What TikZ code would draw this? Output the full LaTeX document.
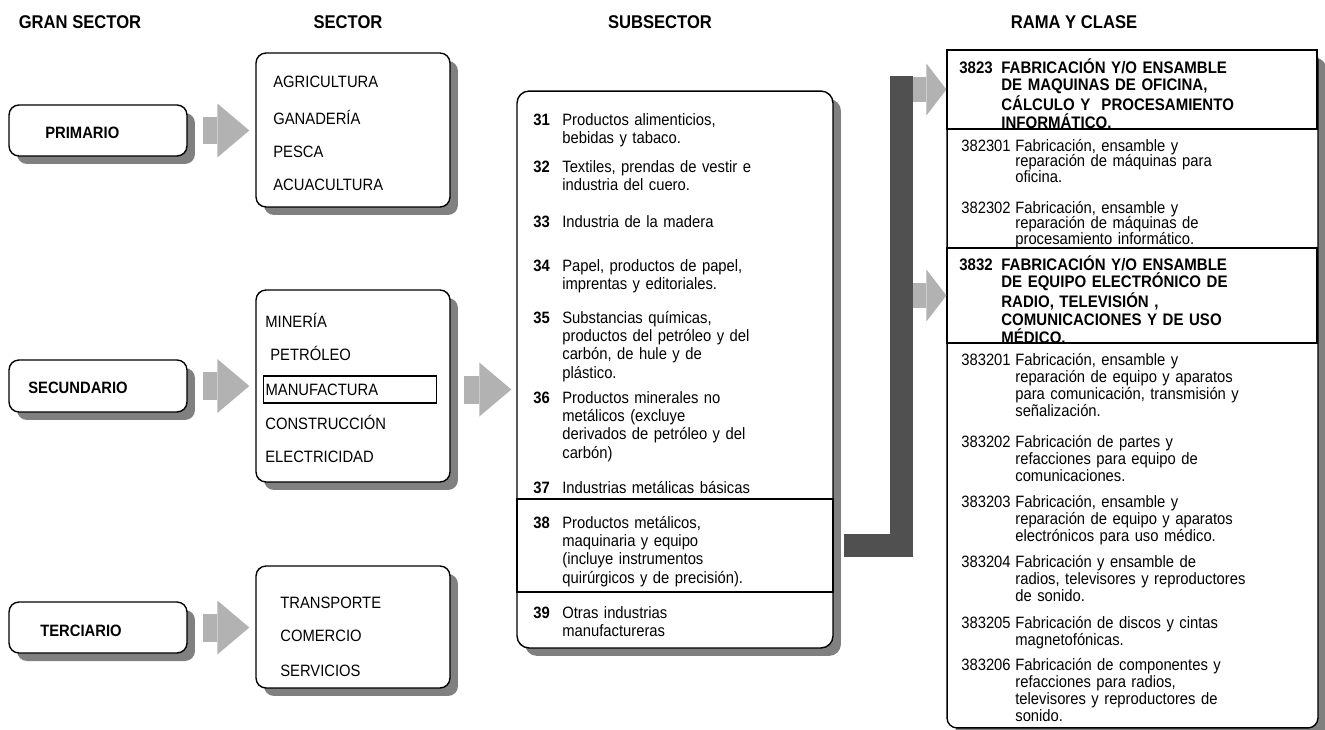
\documentclass[tikz,border=0pt]{standalone}
\usepackage{fontspec}
\setmainfont{Liberation Sans}[FakeStretch=0.9]
\usetikzlibrary{positioning,shadows,arrows.meta}
\definecolor{shadowgray}{RGB}{128,128,128}
\definecolor{arrowgray}{RGB}{178,178,178}
\definecolor{bargray}{RGB}{80,80,80}

\begin{document}
\begin{tikzpicture}[x=0.02cm, y=-0.02cm]
    % Stili
    \tikzset{
        with_shadow/.style={
            drop shadow={shadow xshift=0.16cm, shadow yshift=-0.16cm, fill=shadowgray, opacity=1}
        },
        round_box/.style={
            draw, line width=0.8pt, fill=white, rounded corners=0.2cm, inner sep=0pt, with_shadow
        },
        frame_box/.style={draw, line width=0.7pt, inner sep=0pt},
        col_title/.style={
            anchor=base, inner sep=0pt, font=\fontsize{10.5}{12}\selectfont\bfseries
        },
        gran_label/.style={
            anchor=base west, inner sep=0pt, font=\fontsize{9.35}{11}\selectfont\bfseries
        },
        sector_item/.style={
            anchor=base west, inner sep=0pt, font=\fontsize{9.35}{11}\selectfont
        },
        sub_num/.style={
            anchor=base west, inner sep=0pt, font=\fontsize{9.35}{10.5}\selectfont\bfseries
        },
        sub_text/.style={
            anchor=base west, inner sep=0pt, text width=5.2cm, align=left,
            font=\fontsize{9.35}{10.5}\selectfont
        },
        rama_head/.style={
            anchor=base west, inner sep=0pt, text width=6.2cm, align=left,
            font=\fontsize{9.5}{10.2}\selectfont\bfseries
        },
        clase_num/.style={
            anchor=base west, inner sep=0pt, font=\fontsize{9.35}{9.8}\selectfont
        },
        clase_text/.style={
            anchor=base west, inner sep=0pt, text width=6cm, align=left,
            font=\fontsize{9.35}{9.8}\selectfont
        },
        big_arrow/.style={
            arrowgray, line width=0.56cm,
            -{Triangle[length=0.64cm, width=1.08cm, line width=0pt]}
        },
        small_arrow/.style={
            arrowgray, line width=0.5cm,
            -{Triangle[length=0.4cm, width=1.04cm, line width=0pt]}
        },
        bracket_bar/.style={bargray, line width=0.46cm, line join=miter}
    }

    \useasboundingbox (0,0) rectangle (1325,730);

    % Titoli delle colonne
    \node[col_title] (title_gran) at (80,29) {GRAN SECTOR};
    \node[col_title] (title_sector) at (348,29) {SECTOR};
    \node[col_title] (title_sub) at (660,29) {SUBSECTOR};
    \node[col_title] (title_rama) at (1074,29) {RAMA Y CLASE};

    % Gran sector
    \node[round_box, minimum width=3.56cm, minimum height=1.02cm] (primario) at (98,130.5) {};
    \node[gran_label] (primario_txt) at (45,138) {PRIMARIO};
    \node[round_box, minimum width=3.56cm, minimum height=1.04cm] (secundario) at (98,386) {};
    \node[gran_label] (secundario_txt) at (28,393) {SECUNDARIO};
    \node[round_box, minimum width=3.56cm, minimum height=1.02cm] (terciario) at (98,627.5) {};
    \node[gran_label] (terciario_txt) at (40,636) {TERCIARIO};

    % Sector
    \node[round_box, minimum width=3.88cm, minimum height=3.08cm] (sector1) at (353,130) {};
    \node[sector_item] (agricultura) at (273,87.5) {AGRICULTURA};
    \node[sector_item] (ganaderia) at (273,124) {GANADERÍA};
    \node[sector_item] (pesca) at (273,157) {PESCA};
    \node[sector_item] (acuacultura) at (273,190) {ACUACULTURA};

    \node[round_box, minimum width=3.88cm, minimum height=3.84cm] (sector2) at (353,386) {};
    \node[sector_item] (mineria) at (265,327) {MINERÍA};
    \node[sector_item] (petroleo) at (270,360) {PETRÓLEO};
    \node[frame_box, anchor=west, text width=3.38cm, align=left, inner xsep=0.04cm,
          minimum height=0.54cm, font=\fontsize{9.35}{11}\selectfont] (manufactura) at (263,389.5) {MANUFACTURA};
    \node[sector_item] (construccion) at (265,429) {CONSTRUCCIÓN};
    \node[sector_item] (electricidad) at (265,462) {ELECTRICIDAD};

    \node[round_box, minimum width=3.88cm, minimum height=2.44cm] (sector3) at (353,627) {};
    \node[sector_item] (transporte) at (280,608) {TRANSPORTE};
    \node[sector_item] (comercio) at (280,641.5) {COMERCIO};
    \node[sector_item] (servicios) at (280,676) {SERVICIOS};

    % Subsector
    \node[round_box, rounded corners=0.24cm, minimum width=6.32cm, minimum height=11.14cm] (subsector) at (675,369.5) {};
    \node[frame_box, minimum width=6.32cm, minimum height=1.86cm] (sub38) at (675,545.5) {};

    \node[sub_num] (n31) at (533,125) {31};
    \node[sub_text] (t31) at (562,125) {Productos alimenticios,\\bebidas y tabaco.};
    \node[sub_num] (n32) at (533,172) {32};
    \node[sub_text] (t32) at (562,172) {Textiles, prendas de vestir e\\industria del cuero.};
    \node[sub_num] (n33) at (533,227) {33};
    \node[sub_text] (t33) at (562,227) {Industria de la madera};
    \node[sub_num] (n34) at (533,271) {34};
    \node[sub_text] (t34) at (562,271) {Papel, productos de papel,\\imprentas y editoriales.};
    \node[sub_num] (n35) at (533,323) {35};
    \node[sub_text] (t35) at (562,323) {Substancias químicas,\\productos del petróleo y del\\carbón, de hule y de\\plástico.};
    \node[sub_num] (n36) at (533,403) {36};
    \node[sub_text] (t36) at (562,403) {Productos minerales no\\metálicos (excluye\\derivados de petróleo y del\\carbón)};
    \node[sub_num] (n37) at (533,493) {37};
    \node[sub_text] (t37) at (562,493) {Industrias metálicas básicas};
    \node[sub_num] (n38) at (533,528) {38};
    \node[sub_text] (t38) at (562,528) {Productos metálicos,\\maquinaria y equipo\\(incluye instrumentos\\quirúrgicos y de precisión).};
    \node[sub_num] (n39) at (533,618) {39};
    \node[sub_text] (t39) at (562,618) {Otras industrias\\manufactureras};

    % Rama y clase
    \node[round_box, minimum width=7.42cm, minimum height=13.56cm] (rama) at (1132.5,389) {};
    \node[frame_box, fill=white, minimum width=7.4cm, minimum height=1.58cm] (h3823) at (1132,89.5) {};
    \node[frame_box, minimum width=7.4cm, minimum height=1.9cm] (h3832) at (1132,295.5) {};

    \node[rama_head] (n3823) at (959,73) {3823};
    \node[rama_head] (t3823) at (1001,73) {FABRICACIÓN Y/O ENSAMBLE\\DE MAQUINAS DE OFICINA,\\CÁLCULO Y\ \ PROCESAMIENTO\\INFORMÁTICO.};
    \node[clase_num] (n382301) at (961,151) {382301};
    \node[clase_text, font=\fontsize{9.35}{9.07}\selectfont] (t382301) at (1015,151) {Fabricación, ensamble y\\reparación de máquinas para\\oficina.};
    \node[clase_num] (n382302) at (961,213) {382302};
    \node[clase_text, font=\fontsize{9.35}{9.07}\selectfont] (t382302) at (1015,213) {Fabricación, ensamble y\\reparación de máquinas de\\procesamiento informático.};

    \node[rama_head] (n3832) at (959,270) {3832};
    \node[rama_head] (t3832) at (1001,270) {FABRICACIÓN Y/O ENSAMBLE\\DE EQUIPO ELECTRÓNICO DE\\RADIO, TELEVISIÓN ,\\COMUNICACIONES Y DE USO\\MÉDICO.};
    \node[clase_num] (n383201) at (961,365) {383201};
    \node[clase_text] (t383201) at (1015,365) {Fabricación, ensamble y\\reparación de equipo y aparatos\\para comunicación, transmisión y\\señalización.};
    \node[clase_num] (n383202) at (961,447) {383202};
    \node[clase_text] (t383202) at (1015,447) {Fabricación de partes y\\refacciones para equipo de\\comunicaciones.};
    \node[clase_num] (n383203) at (961,507) {383203};
    \node[clase_text] (t383203) at (1015,507) {Fabricación, ensamble y\\reparación de equipo y aparatos\\electrónicos para uso médico.};
    \node[clase_num] (n383204) at (961,567) {383204};
    \node[clase_text] (t383204) at (1015,567) {Fabricación y ensamble de\\radios, televisores y reproductores\\de sonido.};
    \node[clase_num] (n383205) at (961,628) {383205};
    \node[clase_text] (t383205) at (1015,628) {Fabricación de discos y cintas\\magnetofónicas.};
    \node[clase_num] (n383206) at (961,670) {383206};
    \node[clase_text] (t383206) at (1015,670) {Fabricación de componentes y\\refacciones para radios,\\televisores y reproductores de\\sonido.};

    % Frecce
    \draw[big_arrow, shorten <=0.3cm, shorten >=0.12cm] (primario.east) -- (primario.east -| sector1.west);
    \draw[big_arrow, shorten <=0.3cm, shorten >=0.12cm] (secundario.east) -- (secundario.east -| sector2.west);
    \draw[big_arrow, shorten <=0.3cm, shorten >=0.12cm] (terciario.east) -- (terciario.east -| sector3.west);
    \draw[big_arrow, shorten <=0.26cm, shorten >=0.1cm] (manufactura.east -| sector2.east) -- (manufactura.east -| subsector.west);

    % Parentesi verso le rame
    \coordinate (bar_top) at (901,76);
    \coordinate (bar_edge) at (913,76);
    \draw[bracket_bar] ([xshift=0.2cm]sub38.east) -| (bar_top);
    \draw[small_arrow] (bar_edge |- h3823.west) -- (h3823.west);
    \draw[small_arrow] (bar_edge |- h3832.west) -- (h3832.west);

\end{tikzpicture}
\end{document}
